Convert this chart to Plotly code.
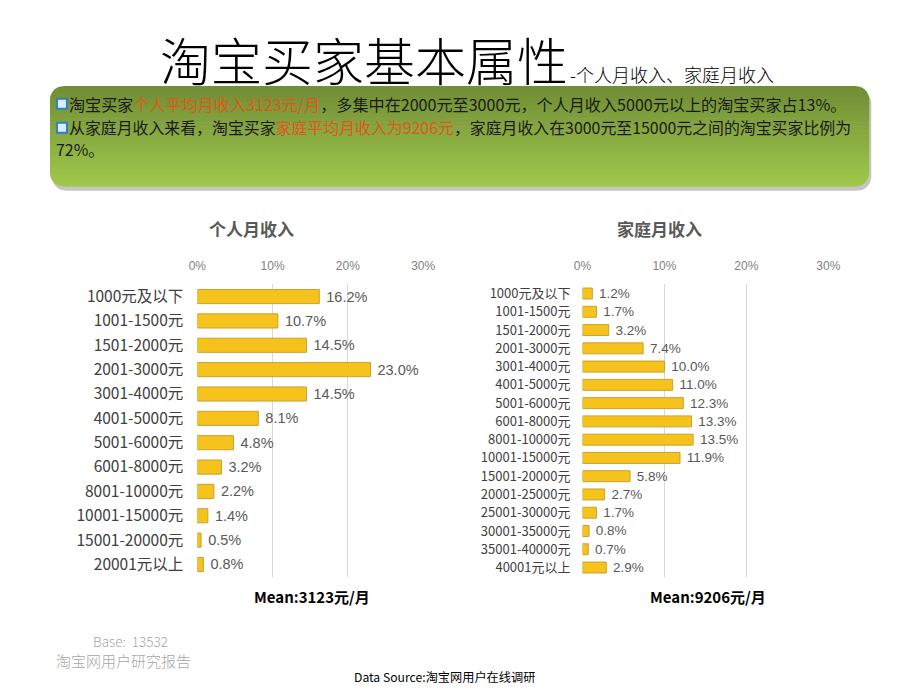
import math
import plotly.graph_objects as go

# ---------------- data ----------------
personal_cats = ['1000元及以下', '1001-1500元', '1501-2000元', '2001-3000元', '3001-4000元',
                 '4001-5000元', '5001-6000元', '6001-8000元', '8001-10000元', '10001-15000元',
                 '15001-20000元', '20001元以上']
personal_vals = [16.2, 10.7, 14.5, 23.0, 14.5, 8.1, 4.8, 3.2, 2.2, 1.4, 0.5, 0.8]

family_cats = ['1000元及以下', '1001-1500元', '1501-2000元', '2001-3000元', '3001-4000元',
               '4001-5000元', '5001-6000元', '6001-8000元', '8001-10000元', '10001-15000元',
               '15001-20000元', '20001-25000元', '25001-30000元', '30001-35000元',
               '35001-40000元', '40001元以上']
family_vals = [1.2, 1.7, 3.2, 7.4, 10.0, 11.0, 12.3, 13.3, 13.5, 11.9, 5.8, 2.7, 1.7, 0.8, 0.7, 2.9]

tick_vals = [0, 10, 20, 30]
tick_text = ['0%', '10%', '20%', '30%']

W, H = 920, 690
CJK = "Noto Sans CJK SC, Noto Sans, sans-serif"
NUM = "Liberation Sans, Arial, sans-serif"
BAR = '#f6c21c'

# horizontal calibration of the rendered page
SX, OX = 0.978, 9.0


def px(x):
    return ((x - OX) / SX) / W


def py(y):
    return 1 - y / H


fig = go.Figure()

fig.add_trace(go.Bar(
    x=personal_vals, y=personal_cats, orientation='h',
    xaxis='x', yaxis='y', width=0.58,
    marker=dict(color=BAR, line=dict(color='#c9a230', width=1)),
    texttemplate=' %{x:.1f}%', textposition='outside', cliponaxis=False,
    constraintext='none',
    textfont=dict(family=NUM, size=14.5, color='#595959'),
    hoverinfo='skip', showlegend=False))

fig.add_trace(go.Bar(
    x=family_vals, y=family_cats, orientation='h',
    xaxis='x2', yaxis='y2', width=0.6,
    marker=dict(color=BAR, line=dict(color='#c9a230', width=1)),
    texttemplate=' %{x:.1f}%', textposition='outside', cliponaxis=False,
    constraintext='none',
    textfont=dict(family=NUM, size=13.5, color='#595959'),
    hoverinfo='skip', showlegend=False))

ydom = [py(576.5), py(283.8)]
common_x = dict(range=[0, 30], side='top', tickvals=tick_vals, ticktext=tick_text,
                showgrid=True, gridcolor='#d9d9d9', gridwidth=1, zeroline=False,
                showline=False, ticks='', ticklabelstandoff=11,
                tickfont=dict(family=NUM, size=12, color='#7f7f7f'),
                fixedrange=True)

# ---------------- green box (gradient via strips) ----------------
shapes = []
bx0, bx1, by0, by1, r = 50, 870, 85, 186, 14


def strip_path(x0, x1, y0, y1, ya, yb, rad, offx=0, offy=0):
    pts_left, pts_right = [], []
    n = max(2, int((yb - ya)))
    for i in range(n + 1):
        yy = ya + (yb - ya) * i / n
        d = min(yy - y0, y1 - yy)
        if d < rad:
            inset = rad - math.sqrt(max(0.0, rad * rad - (rad - d) ** 2))
        else:
            inset = 0
        pts_left.append((x0 + inset, yy))
        pts_right.append((x1 - inset, yy))
    pts = pts_left + pts_right[::-1]
    return 'M ' + ' L '.join(f'{px(a + offx):.5f},{py(b + offy):.5f}' for a, b in pts) + ' Z'


shapes.append(dict(type='path', xref='paper', yref='paper',
                   path=strip_path(bx0, bx1, by0, by1, by0, by1, r, 2, 4),
                   fillcolor='rgba(90,90,90,0.35)', line=dict(width=0), layer='below'))
c_top = (114, 142, 54)
c_bot = (160, 200, 76)
nstrips = 25
for i in range(nstrips):
    ya = by0 + (by1 - by0) * i / nstrips
    yb = by0 + (by1 - by0) * (i + 1) / nstrips + 0.6
    yb = min(yb, by1)
    t = i / (nstrips - 1)
    col = tuple(int(c_top[k] + (c_bot[k] - c_top[k]) * t) for k in range(3))
    shapes.append(dict(type='path', xref='paper', yref='paper',
                       path=strip_path(bx0, bx1, by0, by1, ya, yb, r),
                       fillcolor=f'rgb{col}', line=dict(width=0), layer='below'))

# bullets (small blue outlined squares)
for cy in (103, 127):
    shapes.append(dict(type='rect', xref='paper', yref='paper',
                       x0=px(57), x1=px(67), y0=py(cy + 5), y1=py(cy - 5),
                       fillcolor='#dcebf5', line=dict(color='#2f7fc1', width=2)))

# ---------------- annotations ----------------
ann = []


def text(x, y, s, size, color='#000000', family=CJK, xanchor='center', weight=None):
    f = dict(family=family, size=size, color=color)
    if weight:
        f['weight'] = weight
    ann.append(dict(x=px(x), y=py(y), xref='paper', yref='paper', text=s, showarrow=False,
                    xanchor=xanchor, yanchor='middle', font=f, align='left'))


text(158, 58, '淘宝买家基本属性', 51, '#000000', xanchor='left', weight=300)
text(568, 73, '-个人月收入、家庭月收入', 18, '#000000', xanchor='left', weight=300)

ORG = '#e0561b'
text(67, 103, '淘宝买家<span style="color:%s">个人平均月收入3123元/月</span>，多集中在2000元至3000元，个人月收入5000元以上的淘宝买家占13%%。' % ORG,
     16.1, '#1a1a1a', xanchor='left')
text(67, 127, '从家庭月收入来看，淘宝买家<span style="color:%s">家庭平均月收入为9206元</span>，家庭月收入在3000元至15000元之间的淘宝买家比例为' % ORG,
     15.9, '#1a1a1a', xanchor='left')
text(54, 149, '72%。', 15.9, '#1a1a1a', xanchor='left')

text(252, 228, '个人月收入', 17, '#595959', weight='bold')
text(660, 228, '家庭月收入', 17, '#595959', weight='bold')

text(312, 596, 'Mean:3123元/月', 15, '#000000', weight='bold')
text(709, 596, 'Mean:9206元/月', 15, '#000000', weight='bold')

text(131, 641, 'Base:&nbsp;&nbsp;13532', 13.5, '#a6a6a6', weight=300)
text(124, 660, '淘宝网用户研究报告', 15, '#a6a6a6', weight=300)
text(445, 677, 'Data Source:淘宝网用户在线调研', 12.2, '#000000')

fig.update_layout(
    width=W, height=H, autosize=False,
    margin=dict(l=0, r=0, t=0, b=0),
    paper_bgcolor='white', plot_bgcolor='rgba(0,0,0,0)',
    bargap=0.4,
    xaxis=dict(domain=[px(197.5), px(423.5)], anchor='y', **common_x),
    yaxis=dict(domain=ydom, anchor='x', type='category', categoryorder='array',
               categoryarray=personal_cats, range=[len(personal_cats) - 0.5, -0.5],
               showgrid=False, zeroline=False, showline=False, ticks='',
               ticklabelstandoff=13,
               tickfont=dict(family=CJK, size=15.5, color='#404040'), fixedrange=True),
    xaxis2=dict(domain=[px(583), px(829)], anchor='y2', **common_x),
    yaxis2=dict(domain=ydom, anchor='x2', type='category', categoryorder='array',
                categoryarray=family_cats, range=[len(family_cats) - 0.5, -0.5],
                showgrid=False, zeroline=False, showline=False, ticks='',
                ticklabelstandoff=11,
                tickfont=dict(family=CJK, size=13, color='#404040'), fixedrange=True),
    shapes=shapes,
    annotations=ann,
    font=dict(family=CJK),
)

post = ("document.documentElement.style.margin='0';"
        "document.documentElement.style.overflow='hidden';"
        "document.body.style.margin='0';document.body.style.padding='0';"
        "document.body.style.overflow='hidden';"
        "var d=document.getElementsByClassName('plotly-graph-div')[0];"
        "if(d){d.style.position='absolute';d.style.left='0px';d.style.top='0px';}")

fig.write_html("out.html", config={'displayModeBar': False, 'responsive': False},
               post_script=post)
